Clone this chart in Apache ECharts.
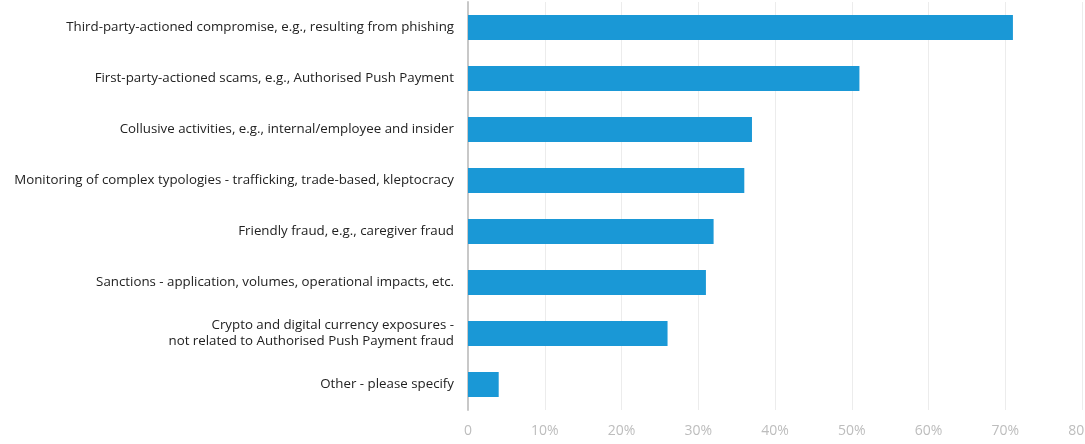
<!DOCTYPE html>
<html>
<head>
<meta charset="utf-8">
<script src="https://cdn.jsdelivr.net/npm/echarts@6/dist/echarts.min.js"></script>
<style>
  html, body { margin: 0; padding: 0; background: #ffffff; }
  #chart { width: 1085px; height: 444px; }
</style>
</head>
<body>
<div id="chart"></div>
<script>
// Fraud / financial-crime concerns, share of respondents (%)
const categories = [
  'Third-party-actioned compromise, e.g., resulting from phishing',
  'First-party-actioned scams, e.g., Authorised Push Payment',
  'Collusive activities, e.g., internal/employee and insider',
  'Monitoring of complex typologies - trafficking, trade-based, kleptocracy',
  'Friendly fraud, e.g., caregiver fraud',
  'Sanctions - application, volumes, operational impacts, etc.',
  'Crypto and digital currency exposures -\nnot related to Authorised Push Payment fraud',
  'Other - please specify'
];
const values = [71, 51, 37, 36, 32, 31, 26, 4];
const tickValues = [0, 10, 20, 30, 40, 50, 60, 70, 80];
const tickLabels = ['0', '10%', '20%', '30%', '40%', '50%', '60%', '70%', '80%'];

const chart = echarts.init(document.getElementById('chart'), null, { renderer: 'canvas' });

chart.setOption({
  animation: false,
  backgroundColor: '#ffffff',
  grid: { left: 468, right: 3, top: 2, bottom: 34, containLabel: false, outerBoundsMode: 'none' },
  xAxis: {
    type: 'value',
    min: 0,
    max: 80,
    interval: 10,
    axisLine: { show: false },
    axisTick: { show: false },
    splitLine: { show: true, lineStyle: { color: '#ececec', width: 1 } },
    axisLabel: {
      margin: 14,
      color: '#bdbdbd',
      fontFamily: '"Open Sans", Lato, sans-serif',
      fontSize: 14,
      formatter: function (v) {
        const i = tickValues.indexOf(v);
        return i >= 0 ? tickLabels[i] : '';
      }
    }
  },
  yAxis: {
    type: 'category',
    inverse: true,
    data: categories,
    axisLine: { show: true, lineStyle: { color: '#c8c8c8', width: 2 } },
    axisTick: { show: false },
    axisLabel: {
      margin: 14,
      color: '#222222',
      fontFamily: '"Open Sans", Lato, sans-serif',
      fontSize: 13.3,
      lineHeight: 16,
      align: 'right'
    }
  },
  series: [{
    type: 'bar',
    data: values,
    barWidth: 25,
    itemStyle: { color: '#1a98d6' },
    z: 3
  }]
});
</script>
</body>
</html>
